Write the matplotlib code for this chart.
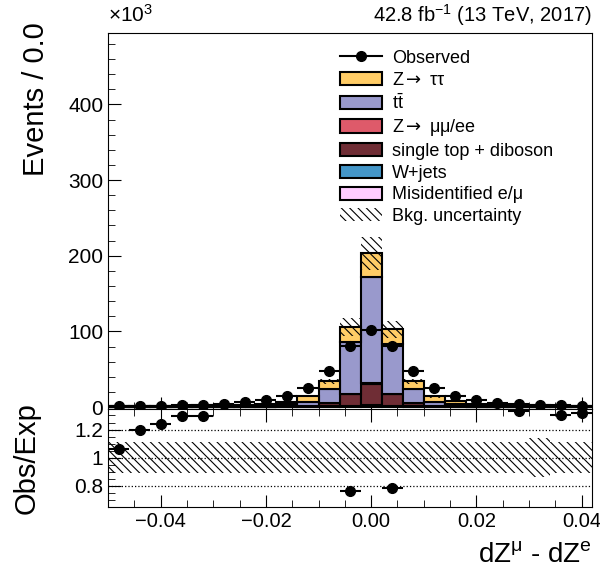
import numpy as np
import matplotlib
matplotlib.use("Agg")
import matplotlib.pyplot as plt
from matplotlib.patches import Patch
from matplotlib.lines import Line2D
from matplotlib.ticker import MultipleLocator, FixedLocator, FixedFormatter

plt.rcParams['font.family'] = ['Liberation Sans', 'DejaVu Sans']
plt.rcParams['mathtext.fontset'] = 'custom'
plt.rcParams['mathtext.rm'] = 'Liberation Sans'
plt.rcParams['mathtext.it'] = 'Liberation Sans'
plt.rcParams['mathtext.bf'] = 'Liberation Sans:bold'
plt.rcParams['mathtext.sf'] = 'DejaVu Sans'
plt.rcParams['hatch.linewidth'] = 0.8

## bin edges of dZ(mu) - dZ(e), 23 bins of 0.004
edges = np.round(np.arange(-0.050, 0.0421, 0.004), 4)
centers = 0.5 * (edges[:-1] + edges[1:])

## stacked backgrounds, in units of 10^3 events
misid = [0.1, 0.1, 0.1, 0.1, 0.1, 0.1, 0.1, 0.1, 0.1, 0.4, 0.6, 1.0, 2.0,
         1.0, 0.6, 0.4, 0.1, 0.1, 0.1, 0.1, 0.1, 0.1, 0.1]
wjets = [0.1, 0.1, 0.1, 0.1, 0.1, 0.1, 0.1, 0.1, 0.1, 0.1, 0.4, 0.8, 1.0,
         0.8, 0.4, 0.1, 0.1, 0.1, 0.1, 0.1, 0.1, 0.1, 0.1]
stop_vv = [0.2, 0.2, 0.2, 0.2, 0.2, 0.2, 0.2, 0.4, 0.7, 1.5, 4.5, 15.0, 27.0,
           15.0, 4.5, 1.5, 0.7, 0.4, 0.2, 0.2, 0.2, 0.2, 0.2]
zll = [0.1, 0.1, 0.1, 0.1, 0.1, 0.1, 0.1, 0.1, 0.1, 0.1, 0.5, 1.2, 2.0,
       1.2, 0.5, 0.1, 0.1, 0.1, 0.1, 0.1, 0.1, 0.1, 0.1]
ttbar = [0.6, 0.65, 0.75, 0.9, 1.1, 1.4, 1.7, 2.2, 3.0, 5.0, 18.0, 68.0, 140.0,
         65.0, 18.0, 5.0, 3.6, 2.2, 1.7, 1.4, 1.1, 0.9, 0.75]
ztt = [0.3, 0.35, 0.4, 0.5, 0.6, 0.8, 1.1, 1.5, 2.8, 7.5, 10.0, 20.0, 31.0,
       20.0, 10.0, 7.0, 3.2, 1.5, 1.1, 0.8, 0.6, 0.5, 0.4]

## observed data (10^3 events)
observed = [1.49, 1.80, 2.04, 2.46, 2.85, 4.0, 6.6, 9.0, 14.5, 25.0, 48.0, 81.0, 102.0,
            81.0, 48.0, 25.0, 14.6, 9.0, 6.0, 3.6, 3.4, 2.47, 2.17]

## relative background uncertainty per bin
rel_unc = [0.11, 0.11, 0.11, 0.11, 0.11, 0.11, 0.11, 0.11, 0.11, 0.11, 0.11, 0.11, 0.11,
           0.11, 0.11, 0.11, 0.11, 0.11, 0.11, 0.11, 0.14, 0.11, 0.11]

components = [
    (misid, '#FFCCFF', 'Misidentified e/\u03bc'),
    (wjets, '#4496C8', 'W+jets'),
    (stop_vv, '#6F2D35', 'single top + diboson'),
    (zll, '#DE5A6A', 'Z$\\mathsf{\\rightarrow}$ \u03bc\u03bc/ee'),
    (ttbar, '#9999CC', 't$\\bar{\\mathrm{t}}$'),
    (ztt, '#FFCC66', 'Z$\\mathsf{\\rightarrow}$ \u03c4\u03c4'),
]

fig = plt.figure(figsize=(6.0, 5.73), dpi=100)
ax = fig.add_axes([0.18, 0.286, 0.807, 0.656])
rax = fig.add_axes([0.18, 0.115, 0.807, 0.171])

width = edges[1] - edges[0]
bottom = np.zeros(len(centers))
for vals, col, lab in components:
    vals = np.array(vals)
    ax.bar(edges[:-1], vals, width=width, bottom=bottom, align='edge',
           color=col, edgecolor='black', linewidth=1.5, zorder=2)
    bottom = bottom + vals
total = bottom

unc = np.array(rel_unc)
up = np.append(total * (1 + unc), total[-1] * (1 + unc[-1]))
dn = np.append(total * (1 - unc), total[-1] * (1 - unc[-1]))
ax.fill_between(edges, dn, up, step='post', facecolor='none', edgecolor='black',
                hatch='\\\\\\\\', linewidth=0, zorder=3)

obs = np.array(observed)
ax.errorbar(centers, obs, xerr=width / 2, yerr=np.sqrt(obs / 1000.0), fmt='o',
            color='black', markersize=7, elinewidth=1.5, capsize=0, zorder=4)

ax.set_xlim(edges[0], edges[-1])
ax.set_ylim(-2.6, 494)
ax.yaxis.set_major_locator(MultipleLocator(100))
ax.yaxis.set_minor_locator(MultipleLocator(20))
ax.xaxis.set_major_locator(MultipleLocator(0.02))
ax.xaxis.set_minor_locator(MultipleLocator(0.005))
ax.tick_params(axis='both', which='both', direction='in', labelsize=15)
ax.tick_params(axis='x', labelbottom=False)
ax.tick_params(which='major', length=9)
ax.tick_params(which='minor', length=5)
ax.spines['bottom'].set_visible(False)
ax.set_ylabel('Events / 0.0', fontsize=21, loc='top')
ax.yaxis.set_label_coords(-0.120, 1.03)

## ratio panel
ratio = obs / total
rup = np.append(1 + unc, 1 + unc[-1])
rdn = np.append(1 - unc, 1 - unc[-1])
rax.fill_between(edges, rdn, rup, step='post', facecolor='none', edgecolor='black',
                 hatch='\\\\\\\\', linewidth=0, zorder=2)
for yv in [0.8, 1.0, 1.2]:
    rax.axhline(yv, color='black', linestyle=':', linewidth=0.9, zorder=1)
rax.errorbar(centers, ratio, xerr=width / 2, fmt='o', color='black', markersize=7,
             elinewidth=1.5, capsize=0, zorder=4)
rax.set_xlim(edges[0], edges[-1])
rax.set_ylim(0.65, 1.345)
rax.yaxis.set_major_locator(FixedLocator([0.8, 1.0, 1.2]))
rax.yaxis.set_major_formatter(FixedFormatter(['0.8', '1', '1.2']))
rax.yaxis.set_minor_locator(MultipleLocator(0.05))
rax.xaxis.set_major_locator(MultipleLocator(0.02))
rax.xaxis.set_minor_locator(MultipleLocator(0.005))
rax.tick_params(axis='both', which='both', direction='in', labelsize=15, top=True)
rax.tick_params(axis='x', labelsize=14.5)
rax.tick_params(which='major', length=9)
rax.tick_params(which='minor', length=5)
rax.set_ylabel('Obs/Exp', fontsize=21)
rax.yaxis.set_label_coords(-0.140, 0.5)
rax.set_xlabel('dZ$^{\\mu}$ - dZ$^{e}$', fontsize=20, loc='right', labelpad=8)

## legend
handles = [Line2D([0], [0], color='black', marker='o', markersize=7, linewidth=1.5)]
labels = ['Observed']
for vals, col, lab in reversed(components):
    handles.append(Patch(facecolor=col, edgecolor='black', linewidth=1.5))
    labels.append(lab)
handles.append(Patch(facecolor='none', edgecolor='black', hatch='\\\\\\\\', linewidth=0))
labels.append('Bkg. uncertainty')
ax.legend(handles, labels, loc='upper left', bbox_to_anchor=(0.465, 0.975), frameon=False,
          fontsize=13, handlelength=2.3, handleheight=0.75, labelspacing=0.26,
          handletextpad=0.55, borderaxespad=0)

fig.text(0.18, 0.962, '\u00d710$^{3}$', fontsize=15, ha='left', va='baseline')
fig.text(0.987, 0.962, '42.8 fb$^{-1}$ (13 TeV, 2017)', fontsize=14.5, ha='right', va='baseline')

fig.savefig('out.png', dpi=100)
